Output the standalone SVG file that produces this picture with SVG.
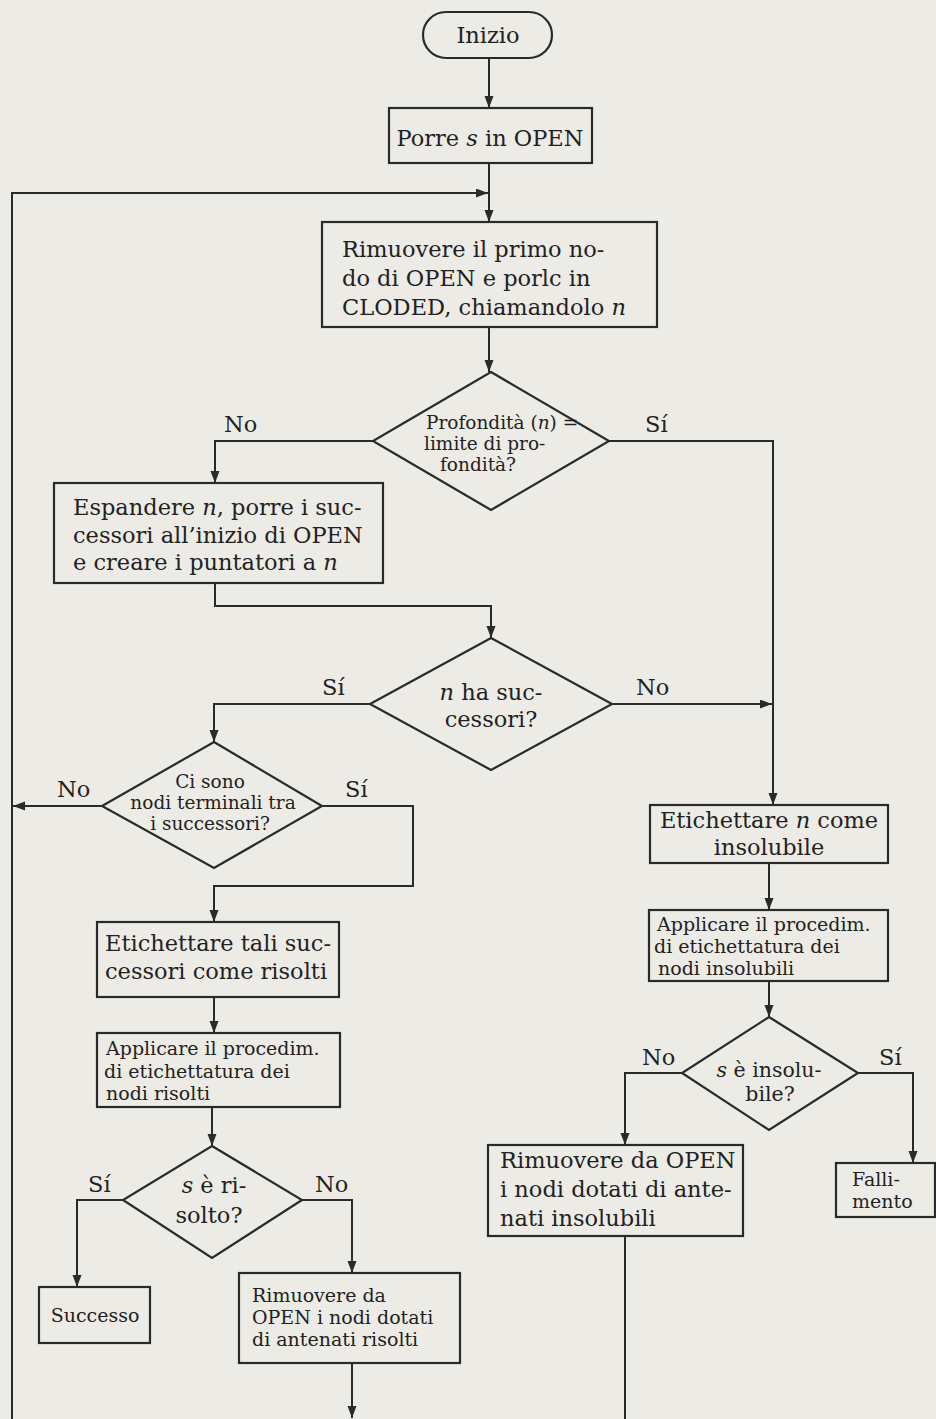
<svg xmlns="http://www.w3.org/2000/svg" width="936" height="1419" viewBox="0 0 936 1419">
<defs>
<marker id="ah" markerWidth="13" markerHeight="10" refX="12" refY="4.5" orient="auto" markerUnits="userSpaceOnUse">
<path d="M0,0 L12,4.5 L0,9 z" fill="#2a2a2a"/>
</marker>
<style>
.bg{fill:#edebe6}
.box{fill:none;stroke:#2a2a2a;stroke-width:2.2}
.con{fill:none;stroke:#2a2a2a;stroke-width:2}
.arr{marker-end:url(#ah)}
text{font-family:"DejaVu Serif","Liberation Serif",serif;fill:#222}
.m{font-size:22.5px}
.s{font-size:19px}
.t{font-size:18.5px}
.c{text-anchor:middle}
.i{font-style:italic}
</style>
</defs>
<rect class="bg" x="0" y="0" width="936" height="1419"/>

<g id="connectors">
<path class="con arr" d="M489 58 V108"/>
<path class="con arr" d="M489 163 V222"/>
<path class="con arr" d="M12 1419 V193 H488"/>
<path class="con arr" d="M489 327 V372"/>
<path class="con arr" d="M373 441 H215 V483"/>
<path class="con arr" d="M609 441 H773 V805"/>
<path class="con arr" d="M215 583 V606 H491 V638"/>
<path class="con arr" d="M370 704 H214 V742"/>
<path class="con arr" d="M612 704 H772"/>
<path class="con arr" d="M102 806 H13"/>
<path class="con arr" d="M322 806 H413 V886 H214 V922"/>
<path class="con arr" d="M214 997 V1033"/>
<path class="con arr" d="M212 1107 V1146"/>
<path class="con arr" d="M123 1200 H77 V1287"/>
<path class="con arr" d="M302 1200 H352 V1273"/>
<path class="con arr" d="M352 1363 V1418"/>
<path class="con arr" d="M769 863 V910"/>
<path class="con arr" d="M769 981 V1017"/>
<path class="con arr" d="M682 1073 H625 V1145"/>
<path class="con arr" d="M858 1073 H913 V1163"/>
<path class="con" d="M625 1236 V1419"/>
</g>

<g id="labels">
<text class="m" x="224" y="432">No</text>
<text class="m" x="645" y="432">Sí</text>
<text class="m" x="322" y="695">Sí</text>
<text class="m" x="636" y="695">No</text>
<text class="m" x="57" y="797">No</text>
<text class="m" x="345" y="797">Sí</text>
<text class="m" x="642" y="1065">No</text>
<text class="m" x="879" y="1065">Sí</text>
<text class="m" x="88" y="1192">Sí</text>
<text class="m" x="315" y="1192">No</text>
</g>

<g id="n-inizio">
<rect class="box" x="423" y="12" width="129" height="46" rx="23"/>
<text class="m c" x="488" y="43">Inizio</text>
</g>

<g id="n-porre">
<rect class="box" x="389" y="108" width="203" height="55"/>
<text class="m c" x="490" y="146">Porre <tspan class="i">s</tspan> in OPEN</text>
</g>

<g id="n-rimuovere1">
<rect class="box" x="322" y="222" width="335" height="105"/>
<text class="m" x="342" y="257">Rimuovere il primo no-</text>
<text class="m" x="342" y="286">do di OPEN e porlc in</text>
<text class="m" x="342" y="315">CLODED, chiamandolo <tspan class="i">n</tspan></text>
</g>

<g id="n-dec1">
<polygon class="box" points="491,372 609,441 491,510 373,441"/>
<text class="t" x="426" y="429">Profondità (<tspan class="i">n</tspan>) =</text>
<text class="t" x="424" y="450">limite di pro-</text>
<text class="t" x="440" y="471">fondità?</text>
</g>

<g id="n-espandere">
<rect class="box" x="54" y="483" width="329" height="100"/>
<text class="m" x="73" y="515">Espandere <tspan class="i">n</tspan>, porre i suc-</text>
<text class="m" x="73" y="543">cessori all’inizio di OPEN</text>
<text class="m" x="73" y="570">e creare i puntatori a <tspan class="i">n</tspan></text>
</g>

<g id="n-dec2">
<polygon class="box" points="491,638 612,704 491,770 370,704"/>
<text class="m c" x="491" y="700"><tspan class="i">n</tspan> ha suc-</text>
<text class="m c" x="491" y="727">cessori?</text>
</g>

<g id="n-dec3">
<polygon class="box" points="214,742 322,806 214,868 102,806"/>
<text class="t c" x="210" y="788">Ci sono</text>
<text class="t c" x="213" y="809">nodi terminali tra</text>
<text class="t c" x="210" y="830">i successori?</text>
</g>

<g id="n-etichettare-risolti">
<rect class="box" x="97" y="922" width="242" height="75"/>
<text class="m" x="105" y="951">Etichettare tali suc-</text>
<text class="m" x="105" y="979">cessori come risolti</text>
</g>

<g id="n-applicare-risolti">
<rect class="box" x="97" y="1033" width="243" height="74"/>
<text class="s" x="106" y="1055">Applicare il procedim.</text>
<text class="s" x="104" y="1078">di etichettatura dei</text>
<text class="s" x="106" y="1100">nodi risolti</text>
</g>

<g id="n-dec5">
<polygon class="box" points="212,1146 302,1200 212,1258 123,1200"/>
<text class="m c" x="214" y="1193"><tspan class="i">s</tspan> è ri-</text>
<text class="m c" x="209" y="1223">solto?</text>
</g>

<g id="n-successo">
<rect class="box" x="39" y="1287" width="111" height="56"/>
<text class="c" style="font-size:19px" x="95" y="1322">Successo</text>
</g>

<g id="n-rimuovere-risolti">
<rect class="box" x="239" y="1273" width="221" height="90"/>
<text class="s" x="252" y="1302">Rimuovere da</text>
<text class="s" x="252" y="1324">OPEN i nodi dotati</text>
<text class="s" x="252" y="1346">di antenati risolti</text>
</g>

<g id="n-etichettare-insolubile">
<rect class="box" x="650" y="805" width="238" height="58"/>
<text class="m c" x="769" y="828">Etichettare <tspan class="i">n</tspan> come</text>
<text class="m c" x="769" y="855">insolubile</text>
</g>

<g id="n-applicare-insolubili">
<rect class="box" x="649" y="910" width="239" height="71"/>
<text class="s" x="657" y="931">Applicare il procedim.</text>
<text class="s" x="654" y="953">di etichettatura dei</text>
<text class="s" x="658" y="975">nodi insolubili</text>
</g>

<g id="n-dec4">
<polygon class="box" points="769,1017 858,1073 769,1130 682,1073"/>
<text class="c" style="font-size:20.5px" x="769" y="1077"><tspan class="i">s</tspan> è insolu-</text>
<text class="c" style="font-size:20.5px" x="770" y="1101">bile?</text>
</g>

<g id="n-rimuovere-insolubili">
<rect class="box" x="488" y="1145" width="255" height="91"/>
<text class="m" x="500" y="1168">Rimuovere da OPEN</text>
<text class="m" x="500" y="1197">i nodi dotati di ante-</text>
<text class="m" x="500" y="1226">nati insolubili</text>
</g>

<g id="n-fallimento">
<rect class="box" x="836" y="1163" width="99" height="54"/>
<text class="s" x="852" y="1186">Falli-</text>
<text class="s" x="852" y="1208">mento</text>
</g>
</svg>
